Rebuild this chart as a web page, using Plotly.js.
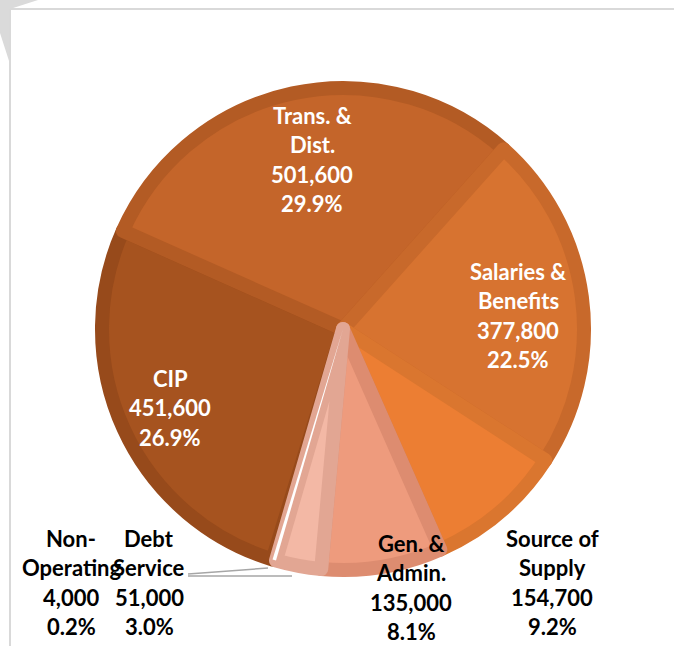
<!DOCTYPE html>
<html>
<head>
<meta charset="utf-8">
<script src="https://cdn.plot.ly/plotly-3.0.1.min.js"></script>
<style>html,body{margin:0;padding:0;background:#fff;}#chart{width:674px;height:646px;}</style>
</head>
<body>
<div id="chart"></div>
<script>
// ---- data ----
const categories = ['CIP', 'Trans. & Dist.', 'Salaries & Benefits', 'Source of Supply', 'Gen. & Admin.', 'Debt Service', 'Non-Operating'];
const labelLines = [['CIP'], ['Trans. &', 'Dist.'], ['Salaries &', 'Benefits'], ['Source of', 'Supply'], ['Gen. &', 'Admin.'], ['Debt', 'Service'], ['Non-', 'Operating']];
const values = [451600, 501600, 377800, 154700, 135000, 51000, 4000];

// ---- styling ----
const fillColors = ['#A6531F', '#C4652A', '#D77330', '#EC7E33', '#EE9B7D', '#F3B8A5', '#FFFFFF'];
const borderColors = ['#974A1B', '#B35B24', '#C8692B', '#DA762F', '#DD8C70', '#E2A693', '#FFFFFF'];
const borderWidths = [14, 14, 14, 14, 14, 14, 0];
const textColors = ['#FFFFFF', '#FFFFFF', '#FFFFFF', '#000000', '#000000', '#000000', '#000000'];
const labelX = [170, 312, 518, 552, 411, 149, 71];     // px, line centre
const labelY0 = [378, 115, 271, 538, 543, 538, 538];   // px, first line centre
const lineGap = 29.5;

const W = 674, H = 646;
const px = x => x / W;
const py = y => 1 - y / H;

const total = values.reduce((a, b) => a + b, 0);

const cx = 343, cy = 329, r = 241;

const trace = {
  type: 'pie',
  labels: categories,
  values: values,
  sort: false,
  direction: 'clockwise',
  rotation: 197,
  textinfo: 'none',
  hoverinfo: 'label+value+percent',
  marker: { colors: fillColors, line: { color: borderColors, width: borderWidths } },
  domain: { x: [px(cx - r), px(cx + r)], y: [py(cy + r), py(cy - r)] },
  showlegend: false
};

const annotations = [];
categories.forEach((c, i) => {
  const lines = labelLines[i].concat([
    values[i].toLocaleString('en-US'),
    (values[i] / total * 100).toFixed(1) + '%'
  ]);
  lines.forEach((t, k) => {
    annotations.push({
      xref: 'paper', yref: 'paper',
      x: px(labelX[i]), y: py(labelY0[i] + k * lineGap),
      xanchor: 'center', yanchor: 'middle',
      text: '<b>' + t + '</b>',
      showarrow: false,
      borderpad: 0,
      font: { family: 'Lato, "Open Sans", sans-serif', size: 22, color: textColors[i] }
    });
  });
});

const shapes = [
  // decorative corner
  { type: 'path', xref: 'paper', yref: 'paper',
    path: `M ${px(0)} ${py(0)} L ${px(38)} ${py(0)} L ${px(10)} ${py(9)} L ${px(10)} ${py(64)} L ${px(0)} ${py(33)} Z`,
    fillcolor: '#DADADA', line: { width: 0 }, layer: 'below' },
  // frame
  { type: 'line', xref: 'paper', yref: 'paper', x0: px(10), x1: px(674), y0: py(9), y1: py(9),
    line: { color: '#D9D9D9', width: 2 } },
  { type: 'line', xref: 'paper', yref: 'paper', x0: px(10), x1: px(10), y0: py(9), y1: py(646),
    line: { color: '#D9D9D9', width: 2 } },
  // leader lines
  { type: 'line', xref: 'paper', yref: 'paper', x0: px(188), x1: px(268), y0: py(574), y1: py(568),
    line: { color: '#A6A6A6', width: 1.5 } },
  { type: 'line', xref: 'paper', yref: 'paper', x0: px(188), x1: px(292), y0: py(576), y1: py(576),
    line: { color: '#A6A6A6', width: 1.5 } }
];

const layout = {
  width: W, height: H,
  margin: { l: 0, r: 0, t: 0, b: 0 },
  paper_bgcolor: '#FFFFFF',
  plot_bgcolor: '#FFFFFF',
  annotations: annotations,
  shapes: shapes,
  showlegend: false
};

Plotly.newPlot('chart', [trace], layout, { displayModeBar: false, staticPlot: true });
</script>
</body>
</html>
